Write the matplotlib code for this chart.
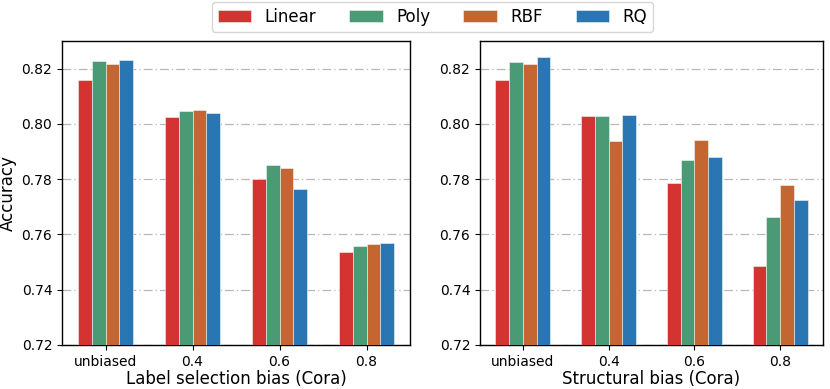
import matplotlib
matplotlib.use("Agg")
import matplotlib.pyplot as plt
import numpy as np

categories = ["unbiased", "0.4", "0.6", "0.8"]
series_names = ["Linear", "Poly", "RBF", "RQ"]
colors = ["#d33431", "#4a9a76", "#c36632", "#2a76b3"]

label_bias = {
    "Linear": [0.8160, 0.8025, 0.7800, 0.7535],
    "Poly":   [0.8226, 0.8045, 0.7852, 0.7559],
    "RBF":    [0.8216, 0.8052, 0.7840, 0.7565],
    "RQ":     [0.8233, 0.8038, 0.7763, 0.7569],
}
struct_bias = {
    "Linear": [0.8160, 0.8028, 0.7786, 0.7486],
    "Poly":   [0.8224, 0.8028, 0.7870, 0.7662],
    "RBF":    [0.8215, 0.7939, 0.7942, 0.7779],
    "RQ":     [0.8242, 0.8031, 0.7882, 0.7726],
}
yticks = [0.72, 0.74, 0.76, 0.78, 0.80, 0.82]

fig = plt.figure(figsize=(8.3, 3.89), dpi=100)
ax1 = fig.add_axes([62/830, 1-345/389, 348/830, 304/389])
ax2 = fig.add_axes([480/830, 1-345/389, 343/830, 304/389])

x = np.arange(len(categories))
w = 0.16
handles = []
for ax, data, xl in [(ax1, label_bias, "Label selection bias (Cora)"),
                     (ax2, struct_bias, "Structural bias (Cora)")]:
    for i, name in enumerate(series_names):
        b = ax.bar(x + (i - 1.5) * w, data[name], width=w, color=colors[i],
                   edgecolor="#f4f4f4", linewidth=0.4, label=name, zorder=3)
        if ax is ax1:
            handles.append(b)
    ax.set_ylim(0.72, 0.83)
    ax.set_xlim(-0.5, 3.5)
    ax.set_yticks(yticks)
    ax.set_yticklabels([f"{v:.2f}" for v in yticks])
    ax.set_xticks(x)
    ax.set_xticklabels(categories)
    ax.tick_params(labelsize=10)
    ax.yaxis.grid(True, linestyle=(0, (7, 2.5, 1, 2.5)), color="#b8b8b8",
                  linewidth=0.9, zorder=0)
    ax.set_axisbelow(True)
    ax.set_xlabel(xl, fontsize=12, labelpad=1)
    for s in ax.spines.values():
        s.set_linewidth(1.0)
ax1.set_ylabel("Accuracy", fontsize=12, labelpad=3)

fig.legend(handles, series_names, loc="upper center", ncol=4,
           bbox_to_anchor=(432.5/830, 1 - 2/389), borderaxespad=0,
           fontsize=12, frameon=True,
           handlelength=2.0, columnspacing=2.0, borderpad=0.35)

fig.savefig("out.png", dpi=100)
